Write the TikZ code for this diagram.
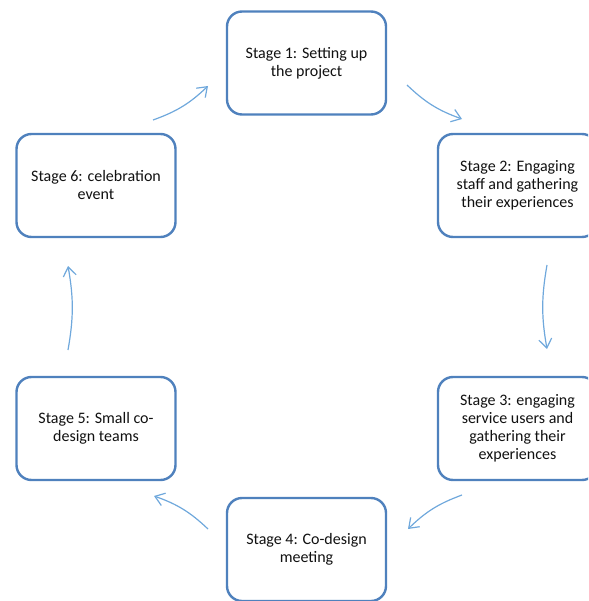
\documentclass[tikz,border=0pt]{standalone}
\usepackage{fontspec}
\setmainfont{Carlito}
\usetikzlibrary{arrows.meta}
\definecolor{frame}{HTML}{4F81BD}
\definecolor{flow}{HTML}{6FA8DC}
\definecolor{ink}{HTML}{111111}
\newcommand{\boxtext}{\fontsize{16}{18}\selectfont}

\begin{document}
\begin{tikzpicture}[x=1pt,y=-1pt,font=\boxtext,
  stagebox/.style={draw=frame,line width=2.4pt,rounded corners=15pt,fill=white,
    minimum width=159pt,minimum height=103pt,align=center,text=ink,inner sep=0},
  cyclearrow/.style={flow,line width=1.2pt,-{Straight Barb[length=9pt,width=13pt]}}]
\useasboundingbox (0,0) rectangle (588,601);
\clip (0,0) rectangle (588,601);
% stages
\node[stagebox] (s1) at (306.5,63) {Stage 1: Setting up\\the project};
\node[stagebox] (s2) at (517.5,185.5) {Stage 2: Engaging\\staff and gathering\\their experiences};
\node[stagebox] (s3) at (517.5,428.5) {Stage 3: engaging\\service users and\\gathering their\\experiences};
\node[stagebox] (s4) at (306.5,549.5) {Stage 4: Co-design\\meeting};
\node[stagebox] (s5) at (96,428.5) {Stage 5: Small co-\\design teams};
\node[stagebox] (s6) at (96,185.5) {Stage 6: celebration\\event};
% arrow ends
\coordinate (a1) at (407,85);  \coordinate (b1) at (462,119);
\coordinate (a2) at (547,265); \coordinate (b2) at (547,349);
\coordinate (a3) at (462,495); \coordinate (b3) at (408,529);
\coordinate (a4) at (208,529); \coordinate (b4) at (154,496);
\coordinate (a5) at (68,350);  \coordinate (b5) at (68,266);
\coordinate (a6) at (153,120); \coordinate (b6) at (208,86);
% cycle
\draw[cyclearrow] (a1) to[bend right=12] (b1);
\draw[cyclearrow] (a2) to[bend right=10] (b2);
\draw[cyclearrow] (a3) to[bend right=12] (b3);
\draw[cyclearrow] (a4) to[bend right=12] (b4);
\draw[cyclearrow] (a5) to[bend right=10] (b5);
\draw[cyclearrow] (a6) to[bend right=12] (b6);
\end{tikzpicture}
\end{document}
